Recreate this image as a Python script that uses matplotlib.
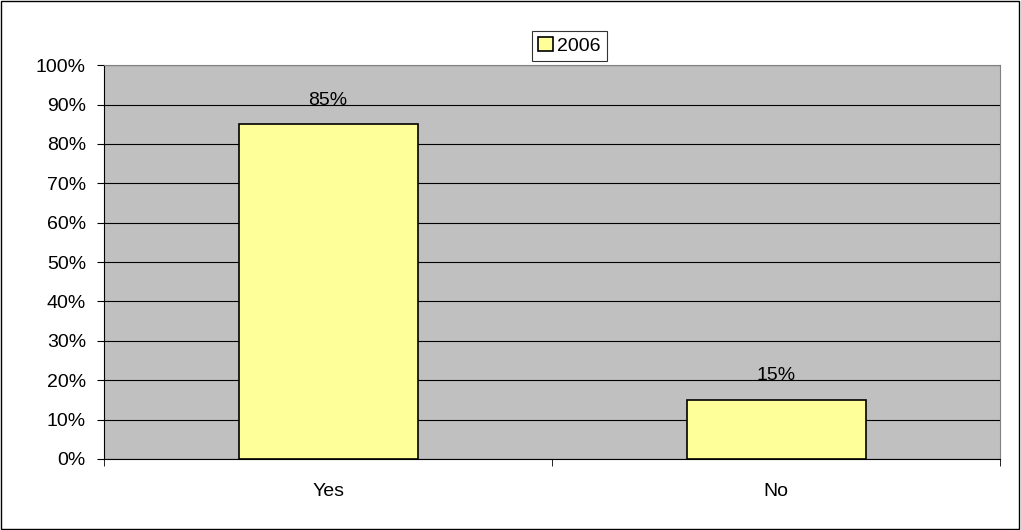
import matplotlib
matplotlib.use('Agg')
import matplotlib.pyplot as plt
from matplotlib.ticker import PercentFormatter
from matplotlib.patches import Rectangle

categories = ['Yes', 'No']
values_2006 = [85, 15]
series_name = '2006'

plt.rcParams['font.family'] = ['Liberation Sans', 'DejaVu Sans']

fig = plt.figure(figsize=(10.21, 5.30), dpi=100)
fig.patches.append(Rectangle((0.001, 0.002), 0.997, 0.996, transform=fig.transFigure,
                             fill=False, edgecolor='black', linewidth=1))
ax = fig.add_axes([0.1019, 0.134, 0.878, 0.743])
ax.set_facecolor('#C0C0C0')

x = list(range(len(categories)))
bars = ax.bar(x, values_2006, width=0.4, color='#FFFF99', edgecolor='black',
              linewidth=1.2, label=series_name, zorder=3)
for xi, v in zip(x, values_2006):
    ax.text(xi, v + 4, f'{v}%', ha='center', va='bottom', fontsize=14, zorder=4)

ax.set_xlim(-0.5, len(categories) - 0.5)
ax.set_ylim(0, 100)
ax.set_yticks(range(0, 101, 10))
ax.yaxis.set_major_formatter(PercentFormatter(decimals=0))
ax.grid(axis='y', color='black', linewidth=0.8, zorder=1)
ax.set_axisbelow(True)

ax.set_xticks(x)
ax.set_xticklabels(categories)
ax.set_xticks([i - 0.5 for i in range(len(categories) + 1)], minor=True)
ax.tick_params(axis='x', which='major', length=0, pad=17, labelsize=14)
ax.tick_params(axis='x', which='minor', length=5, direction='out', color='black')
ax.tick_params(axis='y', length=5, direction='out', labelsize=14, pad=8)

ax.spines['top'].set_color('#808080')
ax.spines['right'].set_color('#808080')
ax.spines['left'].set_color('black')
ax.spines['bottom'].set_color('black')

leg = fig.legend(handles=[bars], labels=[series_name], loc='center',
                 bbox_to_anchor=(569.5 / 1021, 1 - 46 / 530), frameon=True, fancybox=False,
                 edgecolor='black', fontsize=14, handlelength=0.75, handleheight=0.75,
                 handletextpad=0.25, borderpad=0.3)
leg.get_frame().set_linewidth(0.8)

fig.savefig('out.png', dpi=100)
